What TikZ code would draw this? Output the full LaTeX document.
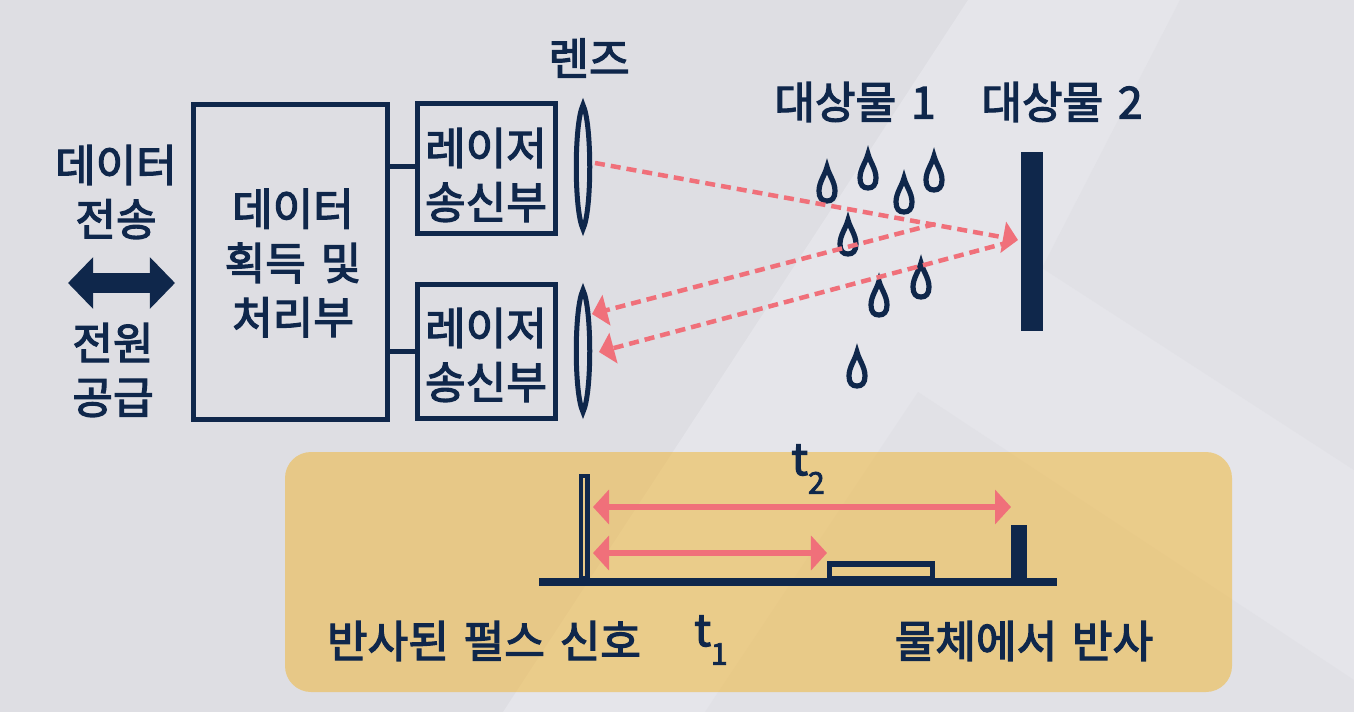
\documentclass[tikz,border=0pt]{standalone}
\usepackage{fontspec}
\usepackage{tikz}
\usetikzlibrary{arrows.meta, positioning}
\newfontfamily\kofont{Noto Sans CJK KR}[FakeBold=2.8, WordSpace=1.5]
\definecolor{bgBase}{RGB}{222,222,227}
\definecolor{bgBand}{RGB}{229,229,234}
\definecolor{bgPatch}{RGB}{225,225,230}
\definecolor{navyEdge}{RGB}{15,39,75}
\definecolor{rayPink}{RGB}{240,112,122}
\definecolor{panelTint}{RGB}{240,180,44}
\newcommand{\tsub}[1]{t\raisebox{-0.42em}{\fontsize{8.5}{8.5}\selectfont #1}}

\begin{document}
\begin{tikzpicture}[
    x=0.01cm, y=-0.01cm,
    txt/.style={font=\kofont\fontsize{12.55}{15.4}\selectfont, text=navyEdge, align=center, inner sep=0pt},
    sysblock/.style={rectangle, draw=navyEdge, line width=0.05cm, anchor=center},
    wire/.style={line width=0.045cm, draw=navyEdge},
    lens/.style={line width=0.05cm, draw=navyEdge},
    drop/.style={line width=0.052cm, draw=navyEdge},
    ray/.style={-{Triangle[length=0.15cm, width=0.31cm]}, rayPink, line width=0.045cm, dash pattern=on 0.1cm off 0.06cm},
    span/.style={{Triangle[length=0.16cm, width=0.34cm]}-{Triangle[length=0.16cm, width=0.34cm]}, rayPink, line width=0.055cm},
    link/.style={{Triangle[length=0.25cm, width=0.5cm]}-{Triangle[length=0.25cm, width=0.5cm]}, navyEdge, line width=0.2cm},
    solid bar/.style={rectangle, fill=navyEdge, inner sep=0pt},
]
\useasboundingbox (0,0) rectangle (1354,712);

% ========== BACKGROUND ==========
\fill[bgBase] (0,0) rectangle (1354,712);
\fill[bgBand] (968,0) -- (1354,0) -- (1354,712) -- (503,712) -- cycle;
\fill[bgBase!60!bgBand] (1180,0) -- (1354,0) -- (1354,470) -- (1042,268) -- cycle;
\fill[bgPatch] (918,392) -- (1354,680) -- (1354,712) -- (705,712) -- cycle;

% ========== BLOCKS ==========
\node[sysblock, minimum width=1.94cm, minimum height=3.15cm] at (290.5,262) (proc) {};
\node[txt] at (293,263) (procTxt) {데이터\\획득 및\\처리부};
\node[sysblock, minimum width=1.37cm, minimum height=1.3cm] at (486.5,168.5) (laserA) {};
\node[txt] at (486,175) (laserAtxt) {레이저\\송신부};
\node[sysblock, minimum width=1.37cm, minimum height=1.33cm] at (486.5,351.5) (laserB) {};
\node[txt] at (486,355) (laserBtxt) {레이저\\송신부};

\draw[wire, shorten >=0.02cm] ([yshift=0.02cm]laserA.west) -- ([yshift=0.02cm, xshift=-0.05cm]laserA.west -| proc.east);
\draw[wire, shorten >=0.02cm] (laserB.west) -- ([xshift=-0.05cm]laserB.west -| proc.east);

% ========== LEFT SIDE ==========
\node[txt] at (116,192) (dataTxt) {데이터\\전송};
\node[txt] at (113,370) (powerTxt) {전원\\공급};
\coordinate (linkL) at (68,283);
\coordinate (linkR) at (175,283);
\draw[link] (linkL) -- (linkR);

% ========== LENSES ==========
\node[txt] at (589,58) (lensTxt) {렌즈};
\foreach \lx/\ly/\lh in {583/167/62, 583/351/61}{
    \draw[lens] (\lx,\ly-\lh) .. controls (\lx+9,\ly-\lh*0.7) and (\lx+9,\ly+\lh*0.7) .. (\lx,\ly+\lh)
        .. controls (\lx-9,\ly+\lh*0.7) and (\lx-9,\ly-\lh*0.7) .. cycle;
}

% ========== TARGETS ==========
\node[txt] at (855,102) (objA) {대상물 1};
\node[txt] at (1062,102) (objB) {대상물 2};
\node[solid bar, minimum width=0.22cm, minimum height=1.79cm] at (1032,241.5) (wall) {};

% drops (tip position)
\foreach \dx/\dy in {827/167, 868/154, 904/178, 934/156, 848/220, 879/281, 921/263, 857/352}{
    \draw[drop] (\dx,\dy) .. controls (\dx+2,\dy+8) and (\dx+8,\dy+15) .. (\dx+8,\dy+24)
        .. controls (\dx+8,\dy+31) and (\dx+5,\dy+34) .. (\dx,\dy+34)
        .. controls (\dx-5,\dy+34) and (\dx-8,\dy+31) .. (\dx-8,\dy+24)
        .. controls (\dx-8,\dy+15) and (\dx-2,\dy+8) .. cycle;
}

% ========== RAYS ==========
\coordinate (rayStart) at (595,163);
\coordinate (rayHit) at (1018,240);
\coordinate (rayBackA) at (935,224);
\coordinate (rayBackB) at (1010,242);
\coordinate (rayEndA) at (592,314);
\coordinate (rayEndB) at (599,352);
\draw[ray] (rayStart) -- (rayHit);
\draw[ray] (rayBackA) -- (rayEndA);
\draw[ray] (rayBackB) -- (rayEndB);

% ========== PANEL ==========
\fill[panelTint, fill opacity=0.5, rounded corners=0.26cm] (285,452) rectangle (1232,692);

\node[solid bar, minimum width=5.18cm, minimum height=0.085cm] at (798,582) (axis) {};
\node[rectangle, draw=navyEdge, line width=0.045cm, inner sep=0pt, minimum width=0.065cm, minimum height=1.02cm] at (584,527) (pulseA) {};
\node[rectangle, draw=navyEdge, line width=0.05cm, inner sep=0pt, minimum width=1.03cm, minimum height=0.14cm] at (881,571) (pulseB) {};
\node[solid bar, minimum width=0.16cm, minimum height=0.54cm] at (1019,552) (pulseC) {};

\coordinate (spanL) at (593,507);
\coordinate (spanM) at (827,553);
\coordinate (spanR) at (1011,507);
\draw[span] (spanL) -- (spanR);
\draw[span] (spanL |- spanM) -- (spanM);

\node[txt] at (808,469) (tTwo) {\tsub{2}};
\node[txt] at (711,640) (tOne) {\tsub{1}};
\node[txt] at (484,641) (pulseTxt) {반사된 펄스 신호};
\node[txt] at (1024,641) (reflTxt) {물체에서 반사};

\end{tikzpicture}
\end{document}
